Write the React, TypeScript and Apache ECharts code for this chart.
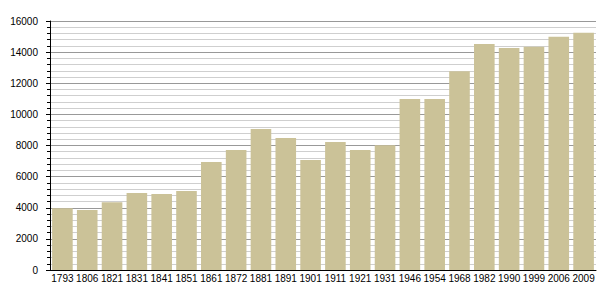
import React, { useEffect, useRef } from "react";
import * as echarts from "echarts";

const years = ["1793","1806","1821","1831","1841","1851","1861","1872","1881","1891","1901","1911","1921","1931","1946","1954","1968","1982","1990","1999","2006","2009"];
const population = [3967,3860,4350,4948,4884,5076,6935,7712,9060,8483,7069,8225,7712,8015,10988,10988,12768,14522,14265,14350,14985,15245];

export default function App() {
  const ref = useRef<HTMLDivElement>(null);
  useEffect(() => {
    const chart = echarts.init(ref.current!, null, { renderer: "svg" });
    chart.setOption({
      animation: false,
      grid: { left: 50, right: 9, top: 21, bottom: 30 },
      xAxis: {
        type: "category",
        data: years,
        axisLine: { lineStyle: { color: "#000", width: 1 } },
        axisTick: { show: false },
        axisLabel: { color: "#000", fontSize: 10, fontFamily: "Liberation Sans, Arial, sans-serif", margin: 3, interval: 0 },
      },
      yAxis: {
        type: "value",
        min: 0,
        max: 16000,
        interval: 2000,
        axisLine: { show: true, lineStyle: { color: "#000", width: 1 } },
        axisTick: { show: true, length: 4, inside: false, lineStyle: { color: "#000" } },
        minorTick: { show: true, splitNumber: 5, length: 3, lineStyle: { color: "#000" } },
        splitLine: { show: true, lineStyle: { color: "#999", width: 1 } },
        minorSplitLine: { show: true, lineStyle: { color: "#cfcfcf", width: 1 } },
        axisLabel: {
          color: "#000",
          fontSize: 10,
          fontFamily: "Liberation Sans, Arial, sans-serif",
          margin: 12,
          formatter: (v: number) => String(v),
        },
      },
      series: [
        {
          type: "bar",
          data: population,
          barCategoryGap: "17%",
          itemStyle: { color: "#cbc298" },
        },
      ],
    });
    return () => chart.dispose();
  }, []);
  return <div ref={ref} style={{ width: 605, height: 300, position: "absolute", left: 0, top: 0 }} />;
}
